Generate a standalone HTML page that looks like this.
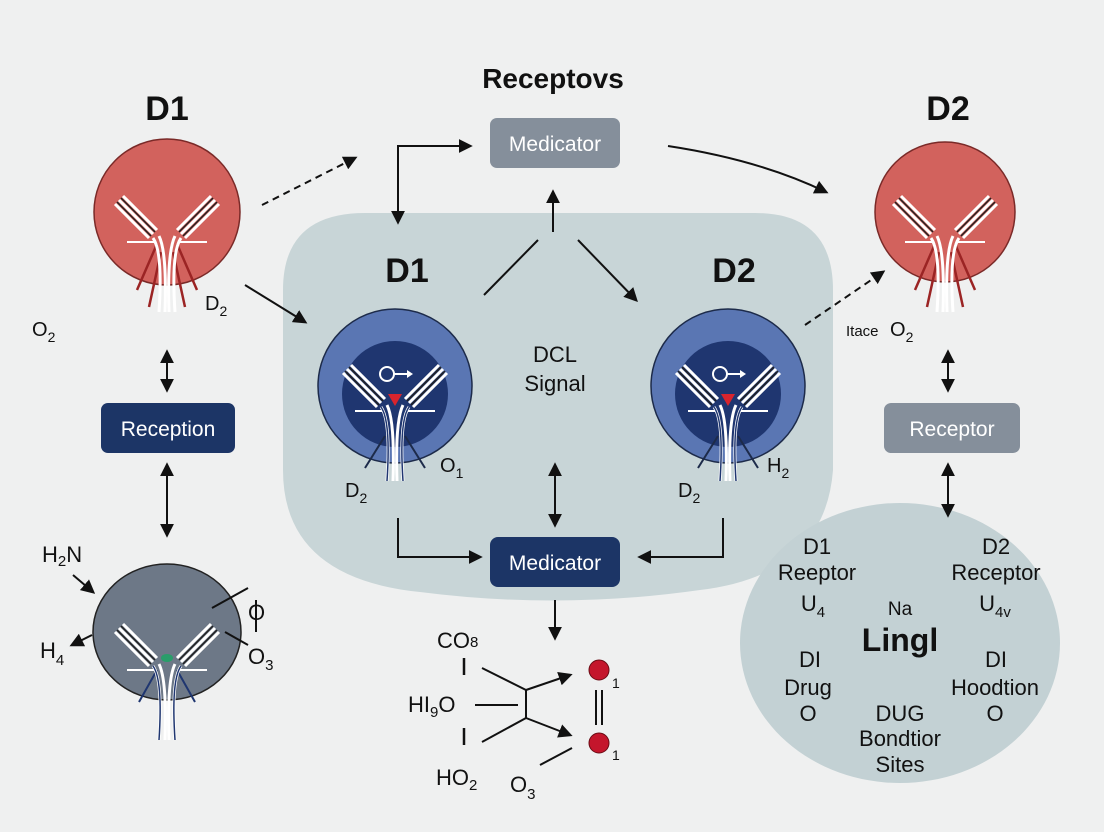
<!DOCTYPE html>
<html><head><meta charset="utf-8"><style>
html,body{margin:0;padding:0;background:#eff0f0;}
svg{display:block;font-family:"Liberation Sans",sans-serif;}
</style></head><body>
<svg width="1104" height="832" viewBox="0 0 1104 832" xmlns="http://www.w3.org/2000/svg">
<defs>
<marker id="ah" viewBox="0 0 10 10" refX="8" refY="5" markerWidth="7" markerHeight="7" orient="auto-start-reverse"><path d="M0,0 L10,5 L0,10 z" fill="#111"/></marker>
<g id="yk">
 <g stroke-linecap="butt">
  <path d="M-48,-12 L-14,22 M-44,-16 L-10,18 M-52,-8 L-18,26" stroke="#fff" stroke-width="3"/>
  <path d="M-46,-14 L-12,20 M-50,-10 L-16,24" stroke="#222" stroke-width="1.5"/>
  <path d="M48,-12 L14,22 M44,-16 L10,18 M52,-8 L18,26" stroke="#fff" stroke-width="3"/>
  <path d="M46,-14 L12,20 M50,-10 L16,24" stroke="#222" stroke-width="1.5"/>
  <path d="M-40,30 L-12,30 M12,30 L40,30" stroke="#fff" stroke-width="2"/>
 </g>
 <path d="M-14,26 Q-4,40 -8,100 M-8,24 Q0,40 -2,100 M14,26 Q4,40 8,100 M8,24 Q0,40 2,100" stroke="#fff" stroke-width="3" fill="none"/>
</g>
</defs>

<path d="M365,213 L755,213 Q833,213 833,290 L833,470 Q825,575 700,590 Q560,610 420,592 Q283,578 283,470 L283,290 Q283,213 365,213 Z" fill="#c8d5d7"/>
<ellipse cx="900" cy="643" rx="160" ry="140" fill="#c3d1d4"/>

<text x="553" y="88" font-size="28" font-weight="bold" text-anchor="middle" fill="#111">Receptovs</text>
<text x="167" y="120" font-size="34" font-weight="bold" text-anchor="middle" fill="#111">D1</text>
<text x="948" y="120" font-size="34" font-weight="bold" text-anchor="middle" fill="#111">D2</text>
<text x="407" y="282" font-size="34" font-weight="bold" text-anchor="middle" fill="#111">D1</text>
<text x="734" y="282" font-size="34" font-weight="bold" text-anchor="middle" fill="#111">D2</text>
<text x="555" y="362" font-size="22" text-anchor="middle" fill="#111">DCL</text>
<text x="555" y="391" font-size="22" text-anchor="middle" fill="#111">Signal</text>

<circle cx="167" cy="212" r="73" fill="#d2625d" stroke="#7a2a28" stroke-width="1.5"/>
<g transform="translate(167,212)">
 <path d="M-10,32 L-30,78 M-6,40 L-18,95 M10,32 L30,78 M6,40 L18,95" stroke="#9b2424" stroke-width="2.5" fill="none"/>
 <use href="#yk"/>
</g>
<text x="32" y="336" font-size="20" fill="#111">O<tspan font-size="14" dy="6">2</tspan></text>
<text x="205" y="310" font-size="20" fill="#111">D<tspan font-size="14" dy="6">2</tspan></text>

<circle cx="945" cy="212" r="70" fill="#d2625d" stroke="#7a2a28" stroke-width="1.5"/>
<g transform="translate(945,212)">
 <path d="M-10,32 L-30,78 M-6,40 L-18,95 M10,32 L30,78 M6,40 L18,95" stroke="#9b2424" stroke-width="2.5" fill="none"/>
 <use href="#yk"/>
</g>
<text x="846" y="336" font-size="15" fill="#111">Itace</text>
<text x="890" y="336" font-size="20" fill="#111">O<tspan font-size="14" dy="6">2</tspan></text>

<g transform="translate(395,386)">
 <circle r="77" fill="#5a76b3" stroke="#1d2b4a" stroke-width="1.5"/>
 <circle cy="8" r="53" fill="#1f3670"/>
 <circle cx="-8" cy="-12" r="7" fill="none" stroke="#fff" stroke-width="2"/>
 <path d="M-1,-12 L16,-12" stroke="#fff" stroke-width="2"/><path d="M12,-16 L18,-12 L12,-8" fill="#fff"/>
 <path d="M-7,8 L7,8 L0,20 z" fill="#d8242d"/>
 <path d="M-10,50 L-30,82 M10,50 L30,82" stroke="#1d2b4a" stroke-width="2"/>
 <use href="#yk" transform="translate(0,-5)"/>
 <path d="M-14,26 Q-4,40 -8,100 M14,26 Q4,40 8,100" stroke="#1f3670" stroke-width="1.5" fill="none" transform="translate(0,-5)"/>
</g>
<text x="345" y="497" font-size="20" fill="#111">D<tspan font-size="14" dy="6">2</tspan></text>
<text x="440" y="472" font-size="20" fill="#111">O<tspan font-size="14" dy="6">1</tspan></text>

<g transform="translate(728,386)">
 <circle r="77" fill="#5a76b3" stroke="#1d2b4a" stroke-width="1.5"/>
 <circle cy="8" r="53" fill="#1f3670"/>
 <circle cx="-8" cy="-12" r="7" fill="none" stroke="#fff" stroke-width="2"/>
 <path d="M-1,-12 L16,-12" stroke="#fff" stroke-width="2"/><path d="M12,-16 L18,-12 L12,-8" fill="#fff"/>
 <path d="M-7,8 L7,8 L0,20 z" fill="#d8242d"/>
 <path d="M-10,50 L-30,82 M10,50 L30,82" stroke="#1d2b4a" stroke-width="2"/>
 <use href="#yk" transform="translate(0,-5)"/>
 <path d="M-14,26 Q-4,40 -8,100 M14,26 Q4,40 8,100" stroke="#1f3670" stroke-width="1.5" fill="none" transform="translate(0,-5)"/>
</g>
<text x="678" y="497" font-size="20" fill="#111">D<tspan font-size="14" dy="6">2</tspan></text>
<text x="767" y="472" font-size="20" fill="#111">H<tspan font-size="14" dy="6">2</tspan></text>

<ellipse cx="167" cy="632" rx="74" ry="68" fill="#6d7887" stroke="#222" stroke-width="1.5"/>
<g transform="translate(167,640)">
 <path d="M-10,30 L-28,62 M10,30 L28,62" stroke="#1f3670" stroke-width="2"/>
 <use href="#yk"/>
 <path d="M-14,26 Q-4,40 -8,100 M14,26 Q4,40 8,100" stroke="#1f3670" stroke-width="1.5" fill="none"/>
 <ellipse cx="0" cy="18" rx="6" ry="4" fill="#2a9d6a"/>
</g>
<text x="42" y="562" font-size="22" fill="#111">H<tspan font-size="15" dy="4">2</tspan><tspan dy="-4">N</tspan></text>
<line x1="73" y1="575" x2="93" y2="592" stroke="#111" stroke-width="2" marker-end="url(#ah)"/>
<text x="40" y="658" font-size="22" fill="#111">H<tspan font-size="15" dy="7">4</tspan></text>
<line x1="92" y1="635" x2="72" y2="645" stroke="#111" stroke-width="2" marker-end="url(#ah)"/>
<text x="248" y="620" font-size="22" fill="#111">O</text>
<line x1="256" y1="600" x2="256" y2="632" stroke="#111" stroke-width="2"/>
<text x="248" y="664" font-size="22" fill="#111">O<tspan font-size="15" dy="6">3</tspan></text>
<line x1="212" y1="608" x2="248" y2="588" stroke="#111" stroke-width="2"/>
<line x1="225" y1="632" x2="248" y2="645" stroke="#111" stroke-width="2"/>

<rect x="490" y="118" width="130" height="50" rx="7" fill="#858f9b"/>
<text x="555" y="151" font-size="21" text-anchor="middle" fill="#fff">Medicator</text>
<rect x="101" y="403" width="134" height="50" rx="7" fill="#1c3566"/>
<text x="168" y="436" font-size="21" text-anchor="middle" fill="#fff">Reception</text>
<rect x="884" y="403" width="136" height="50" rx="7" fill="#858f9b"/>
<text x="952" y="436" font-size="21" text-anchor="middle" fill="#fff">Receptor</text>
<rect x="490" y="537" width="130" height="50" rx="8" fill="#1c3566"/>
<text x="555" y="570" font-size="21" text-anchor="middle" fill="#fff">Medicator</text>

<g stroke="#111" stroke-width="2" fill="none">
 <line x1="262" y1="205" x2="355" y2="158" stroke-dasharray="7,5" marker-end="url(#ah)"/>
 <path d="M398,222 L398,146 L470,146" marker-start="url(#ah)" marker-end="url(#ah)"/>
 <path d="M668,146 Q760,160 826,192" marker-end="url(#ah)"/>
 <line x1="553" y1="232" x2="553" y2="192" marker-end="url(#ah)"/>
 <line x1="484" y1="295" x2="538" y2="240"/>
 <line x1="578" y1="240" x2="636" y2="300" marker-end="url(#ah)"/>
 <line x1="245" y1="285" x2="305" y2="322" marker-end="url(#ah)"/>
 <line x1="805" y1="325" x2="883" y2="272" stroke-dasharray="7,5" marker-end="url(#ah)"/>
 <line x1="167" y1="352" x2="167" y2="390" marker-start="url(#ah)" marker-end="url(#ah)"/>
 <line x1="167" y1="465" x2="167" y2="535" marker-start="url(#ah)" marker-end="url(#ah)"/>
 <line x1="948" y1="352" x2="948" y2="390" marker-start="url(#ah)" marker-end="url(#ah)"/>
 <line x1="948" y1="465" x2="948" y2="515" marker-start="url(#ah)" marker-end="url(#ah)"/>
 <line x1="555" y1="465" x2="555" y2="525" marker-start="url(#ah)" marker-end="url(#ah)"/>
 <line x1="555" y1="600" x2="555" y2="638" marker-end="url(#ah)"/>
 <path d="M398,518 L398,557 L480,557" marker-end="url(#ah)"/>
 <path d="M723,518 L723,557 L640,557" marker-end="url(#ah)"/>
</g>

<text x="437" y="648" font-size="22" fill="#111">CO<tspan font-size="15" dy="-1">8</tspan></text>
<line x1="464" y1="658" x2="464" y2="675" stroke="#111" stroke-width="2.5"/>
<text x="408" y="712" font-size="22" fill="#111">HI<tspan font-size="15" dy="5">9</tspan><tspan dy="-5">O</tspan></text>
<line x1="464" y1="728" x2="464" y2="745" stroke="#111" stroke-width="2.5"/>
<text x="436" y="785" font-size="22" fill="#111">HO<tspan font-size="15" dy="5">2</tspan></text>
<text x="510" y="792" font-size="22" fill="#111">O<tspan font-size="15" dy="7">3</tspan></text>
<g stroke="#111" stroke-width="2" fill="none">
 <line x1="482" y1="668" x2="526" y2="690"/>
 <line x1="475" y1="705" x2="518" y2="705"/>
 <line x1="482" y1="742" x2="526" y2="718"/>
 <line x1="526" y1="690" x2="526" y2="718"/>
 <line x1="526" y1="690" x2="570" y2="675" marker-end="url(#ah)"/>
 <line x1="526" y1="718" x2="570" y2="735" marker-end="url(#ah)"/>
 <line x1="540" y1="765" x2="572" y2="748"/>
 <line x1="596" y1="690" x2="596" y2="725"/>
 <line x1="602" y1="690" x2="602" y2="725"/>
</g>
<circle cx="599" cy="670" r="10" fill="#c4162c" stroke="#6a0c15"/>
<circle cx="599" cy="743" r="10" fill="#c4162c" stroke="#6a0c15"/>
<text x="612" y="688" font-size="14" fill="#111">1</text>
<text x="612" y="760" font-size="14" fill="#111">1</text>

<g font-size="22" fill="#111" text-anchor="middle">
 <text x="817" y="554">D1</text><text x="817" y="580">Reeptor</text>
 <text x="813" y="611">U<tspan font-size="15" dy="6">4</tspan></text>
 <text x="996" y="554">D2</text><text x="996" y="580">Receptor</text>
 <text x="995" y="611">U<tspan font-size="15" dy="6">4v</tspan></text>
 <text x="900" y="615" font-size="19">Na</text>
 <text x="900" y="651" font-size="32" font-weight="bold">Lingl</text>
 <text x="810" y="667">DI</text><text x="808" y="695">Drug</text><text x="808" y="721">O</text>
 <text x="996" y="667">DI</text><text x="995" y="695">Hoodtion</text><text x="995" y="721">O</text>
 <text x="900" y="721">DUG</text><text x="900" y="746">Bondtior</text><text x="900" y="772">Sites</text>
</g>
</svg>
</body></html>
